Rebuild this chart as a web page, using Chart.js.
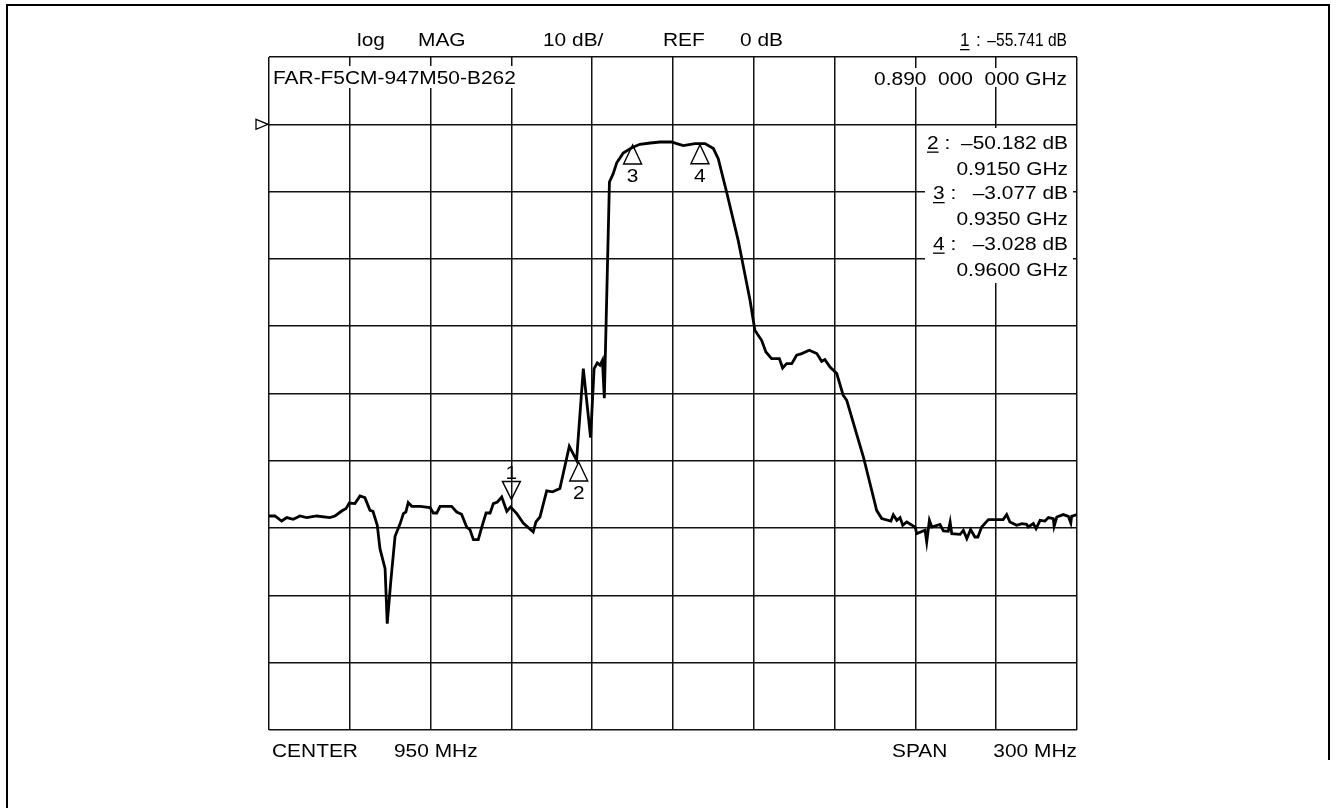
<!DOCTYPE html>
<html>
<head>
<meta charset="utf-8">
<script src="https://cdn.jsdelivr.net/npm/chart.js@4.4.1/dist/chart.umd.min.js"></script>
<style>
html, body { margin: 0; padding: 0; background: #fff; }
#wrap { position: relative; width: 1336px; height: 808px; }
</style>
</head>
<body>
<div id="wrap"><canvas id="analyzer" width="1336" height="808"></canvas></div>
<script>
// trace: frequency (MHz) / magnitude (dB)
const freqMHz = [
  800, 802.2, 804.7, 806.6, 809.0, 811.5, 814.0, 817.7, 822.6, 824.5,
  827.0, 828.6, 829.8, 831.9, 833.8, 835.6, 837.5, 838.6, 840.2, 841.2,
  843.1, 843.9, 845.2, 846.8, 848.7, 849.9, 850.8, 851.7, 853.0, 856.1,
  859.8, 861.0, 862.3, 863.5, 867.8, 869.7, 871.5, 873.4, 874.6, 875.9,
  877.7, 879.0, 880.6, 882.1, 883.3, 884.8, 886.4, 888.3, 889.7, 892.0,
  894.4, 898.1, 899.1, 900.6, 903.1, 905.3, 908.0, 911.5, 914.2, 916.7,
  919.4, 920.7, 921.9, 922.9, 923.8, 924.5, 926.4, 927.8, 929.1, 931.5,
  934.7, 937.7, 941.5, 945.2, 949.5, 951.4, 953.8, 958.2, 961.9, 965.0,
  966.8, 969.9, 974.2, 978.6, 980.4, 982.9, 984.5, 986.6, 989.5, 990.7,
  992.2, 994.1, 995.9, 997.8, 1000.6, 1003.4, 1005.2, 1006.4, 1008.3, 1010.8,
  1013.2, 1014.5, 1020.7, 1025.0, 1025.6, 1027.5, 1030.9, 1031.8, 1033.1, 1034.3,
  1035.3, 1036.8, 1039.9, 1040.5, 1043.6, 1044.2, 1045.2, 1046.1, 1049.1, 1050.4,
  1052.2, 1052.9, 1053.5, 1056.6, 1057.8, 1059.1, 1060.5, 1062.1, 1063.2, 1064.6,
  1067.1, 1072.6, 1073.9, 1075.1, 1077.6, 1079.5, 1081.3, 1081.9, 1083.8, 1084.8,
  1086.3, 1088.1, 1089.4, 1091.2, 1091.5, 1092.5, 1094.9, 1096.8, 1097.7, 1098.0,
  1100
];
const magDB = [
  -58.2, -58.2, -58.95, -58.44, -58.69, -58.2, -58.44, -58.2, -58.44, -58.2,
  -57.46, -57.1, -56.27, -56.36, -55.23, -55.47, -57.36, -57.5, -59.58, -63.05,
  -66.02, -74.19, -68.01, -61.22, -59.33, -57.85, -57.61, -56.21, -56.76, -56.76,
  -56.95, -57.76, -57.76, -56.76, -56.76, -57.61, -57.95, -59.84, -60.22, -61.71,
  -61.71, -59.84, -57.76, -57.76, -56.36, -56.12, -55.38, -57.5, -56.87, -57.85,
  -59.24, -60.58, -59.09, -58.35, -54.46, -54.61, -54.13, -47.85, -49.93, -36.3,
  -46.55, -36.3, -35.47, -35.81, -35.07, -40.71, -8.57, -7.33, -5.72, -4.28,
  -3.49, -2.97, -2.78, -2.63, -2.63, -2.87, -3.16, -2.87, -2.87, -3.61,
  -5.1, -10.06, -17.24, -26.15, -30.61, -32.1, -33.83, -34.81, -34.81, -36.21,
  -35.56, -35.56, -34.32, -34.07, -33.58, -34.07, -35.22, -34.96, -36.06, -37.04,
  -40.27, -41.01, -49.44, -56.36, -57.36, -58.59, -58.95, -58.02, -58.84, -58.44,
  -59.58, -59.09, -59.84, -60.82, -60.33, -62.07, -58.84, -59.84, -59.44, -60.43,
  -60.48, -59.09, -60.82, -60.92, -60.33, -61.56, -60.22, -61.32, -61.32, -59.84,
  -58.74, -58.74, -57.99, -59.09, -59.58, -59.33, -59.44, -59.84, -59.33, -60.08,
  -58.84, -58.95, -58.44, -58.59, -59.73, -58.35, -57.99, -58.25, -59.24, -58.25,
  -57.99
];

// markers
const markerNo = ['1', '2', '3', '4'];
const markerFreqMHz = [890, 915, 935, 960];
const markerDB = [-55.741, -50.182, -3.077, -3.028];

// screen settings
const centerMHz = 950;
const spanMHz = 300;
const refDB = 0;
const dbPerDiv = 10;
const title = 'FAR-F5CM-947M50-B262';

const SX = 1.1;
const FONT = '19px "Liberation Sans", Arial, sans-serif';

// text with a horizontal stretch, like the analyzer's screen font
function txt(ctx, s, x, y, align, sx) {
  sx = sx || SX;
  ctx.save();
  ctx.translate(x, y);
  ctx.scale(sx, 1);
  ctx.textAlign = align || 'left';
  ctx.fillText(s, 0, 0);
  ctx.restore();
  return ctx.measureText(s).width * sx;
}

function dbText(v) {
  return v.toFixed(3).replace('-', '\u2013') + ' dB';
}

function underline(ctx, x, y, w) {
  ctx.fillRect(x, y + 3, w, 1.3);
}

const screenText = {
  id: 'screenText',
  afterDraw(chart) {
    const ctx = chart.ctx;
    const a = chart.chartArea;
    const xs = chart.scales.x;
    const ys = chart.scales.y;

    ctx.save();
    // outer frame
    ctx.strokeStyle = '#000';
    ctx.lineWidth = 2;
    ctx.beginPath();
    ctx.moveTo(7, 808);
    ctx.lineTo(7, 5);
    ctx.lineTo(1329, 5);
    ctx.lineTo(1329, 760);
    ctx.stroke();

    // white backing behind the on-screen text
    ctx.fillStyle = '#fff';
    ctx.fillRect(272, 66, 250, 22);
    ctx.fillRect(870, 68, 202, 19);
    ctx.fillRect(925, 128, 148, 155);

    ctx.fillStyle = '#000';
    ctx.font = FONT;
    ctx.textBaseline = 'alphabetic';

    txt(ctx, 'log', 357, 46);
    txt(ctx, 'MAG', 418, 46);
    txt(ctx, dbPerDiv + ' dB/', 543, 46);
    txt(ctx, 'REF', 663, 46);
    txt(ctx, refDB + ' dB', 740, 46);

    // active marker readout (condensed on the screen)
    let w = txt(ctx, markerNo[0], 960, 46, 'left', 0.9);
    underline(ctx, 960, 46, w);
    txt(ctx, ':', 976, 46, 'left', 0.9);
    txt(ctx, dbText(markerDB[0]), 1067, 46, 'right', 0.82);

    txt(ctx, title, 273, 84);
    txt(ctx, (markerFreqMHz[0] / 1000).toFixed(3) + '  000  000 GHz', 1067, 85, 'right');

    // marker readouts 2..4
    const lx = [927, 933, 933];
    for (let i = 1; i < 4; i++) {
      const by = 148.5 + (i - 1) * 50.5;
      w = txt(ctx, markerNo[i], lx[i - 1], by);
      underline(ctx, lx[i - 1], by, w);
      txt(ctx, ' :', lx[i - 1] + w, by);
      txt(ctx, dbText(markerDB[i]), 1068, by, 'right');
      txt(ctx, (markerFreqMHz[i] / 1000).toFixed(4) + ' GHz', 1068, by + 26, 'right');
    }

    txt(ctx, 'CENTER', 272, 757);
    txt(ctx, centerMHz + ' MHz', 394, 757);
    txt(ctx, 'SPAN', 892, 757);
    txt(ctx, spanMHz + ' MHz', 1077, 757, 'right');

    // reference level pointer
    const ry = ys.getPixelForValue(refDB);
    ctx.lineWidth = 1.3;
    ctx.beginPath();
    ctx.moveTo(256, ry - 5);
    ctx.lineTo(a.left - 1, ry);
    ctx.lineTo(256, ry + 5);
    ctx.closePath();
    ctx.stroke();

    // marker triangles
    ctx.lineWidth = 1.4;
    markerFreqMHz.forEach((f, i) => {
      const px = xs.getPixelForValue(f);
      const py = ys.getPixelForValue(markerDB[i]);
      const h = i === 0 ? -18 : 19;
      ctx.beginPath();
      ctx.moveTo(px, py);
      ctx.lineTo(px - 9, py + h);
      ctx.lineTo(px + 9, py + h);
      ctx.closePath();
      ctx.stroke();
      txt(ctx, markerNo[i], px, i === 0 ? py - 20 : py + 37, 'center');
    });
    ctx.restore();
  }
};

const points = freqMHz.map((f, i) => ({ x: f, y: magDB[i] }));

new Chart(document.getElementById('analyzer'), {
  type: 'line',
  data: {
    datasets: [{
      data: points,
      borderColor: '#000',
      borderWidth: 2.8,
      pointRadius: 0,
      tension: 0,
      fill: false
    }]
  },
  options: {
    responsive: false,
    animation: false,
    events: [],
    layout: { padding: { left: 269, top: 57, right: 259, bottom: 78 } },
    plugins: { legend: { display: false }, tooltip: { enabled: false } },
    scales: {
      x: {
        type: 'linear',
        min: centerMHz - spanMHz / 2,
        max: centerMHz + spanMHz / 2,
        ticks: { stepSize: spanMHz / 10, display: false },
        grid: { color: '#111', lineWidth: 1.5, drawTicks: false },
        border: { display: false },
        afterFit: s => { s.height = 0; }
      },
      y: {
        min: refDB - 9 * dbPerDiv,
        max: refDB + dbPerDiv,
        ticks: { stepSize: dbPerDiv, display: false },
        grid: { color: '#111', lineWidth: 1.5, drawTicks: false },
        border: { display: false },
        afterFit: s => { s.width = 0; }
      }
    }
  },
  plugins: [screenText]
});
</script>
</body>
</html>
